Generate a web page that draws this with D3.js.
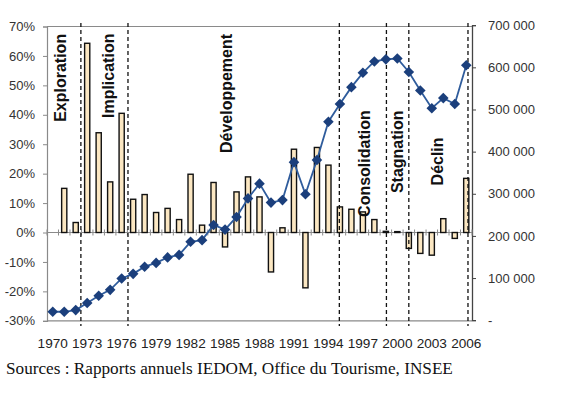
<!DOCTYPE html>
<html><head><meta charset="utf-8">
<script src="https://cdn.jsdelivr.net/npm/d3@7"></script>
<style>body{margin:0;background:#fff}svg{display:block}</style>
</head><body>
<svg id="c" width="576" height="395"></svg>
<script>
const years = d3.range(1970, 2007);
const growth = [null,15,3.4,64.3,33.9,17.2,40.5,11.3,12.9,6.8,8.2,4.4,19.8,2.5,17,-4.9,13.8,18.9,12.1,-13.4,1.6,28.3,-18.8,28.9,22.9,8.7,7.9,7.0,4.4,0.4,0.3,-5.4,-7.1,-7.7,4.7,-2,18.4];
const tourists = [20000,20000,24000,41000,58000,72000,99000,110000,127000,136000,149000,155000,186000,190000,226000,215000,245000,289000,324000,279000,285000,375000,299000,380000,471000,513000,553000,587000,614000,619000,621000,589000,545000,503000,527000,513000,605000];
const leftTicks = [-30,-20,-10,0,10,20,30,40,50,60,70];
const rightTicks = [0,100000,200000,300000,400000,500000,600000,700000];
const xLabels = [1970,1973,1976,1979,1982,1985,1988,1991,1994,1997,2000,2003,2006];
const phaseLines = [1972.45, 1976.55, 1994.95, 1999.05, 2001.0, 2006.15];
const phaseNames = ["Exploration","Implication","Développement","Consolidation","Stagnation","Déclin"];
const phaseX = [1970.64, 1974.86, 1985.16, 1997.1, 2000.05, 2003.5];
const phaseStart = [37.6, 38.9, 27, 5.3, 13.4, 16];
const source = "Sources : Rapports annuels IEDOM, Office du Tourisme, INSEE";

const svg = d3.select("#c");
const L = 47, R = 472;
const x = d3.scaleBand().domain(years).range([L, R]).paddingInner(0.55).paddingOuter(0.275);
const cx = d => x(d) + x.bandwidth()/2;
const xl = d3.scaleLinear().domain([1970, 2006]).range([cx(1970), cx(2006)]);
const yL = d3.scaleLinear().domain([-30, 70]).range([320.8, 26.5]);
const yR = d3.scaleLinear().domain([0, 700000]).range([320.2, 25.2]);
const gray = "#8a8a8a";

// frame
svg.append("line").attr("x1", L).attr("x2", R).attr("y1", yL(70)).attr("y2", yL(70)).attr("stroke", gray).attr("stroke-width", 1.2);
svg.append("line").attr("x1", L).attr("x2", R).attr("y1", yL(-30)).attr("y2", yL(-30)).attr("stroke", gray).attr("stroke-width", 1.2);

// left axis
const gL = svg.append("g").attr("transform", `translate(${L},0)`)
  .call(d3.axisLeft(yL).tickValues(leftTicks).tickSize(4).tickPadding(8).tickFormat(d => d + "%"));
gL.select(".domain").attr("stroke", gray).attr("stroke-width", 1.2);
gL.selectAll(".tick line").attr("stroke", gray);
gL.selectAll("text").attr("font-family", "Arial, Liberation Sans, sans-serif").attr("font-size", 13).attr("fill", "#333");

// right axis
const gR = svg.append("g").attr("transform", `translate(${R},0)`)
  .call(d3.axisRight(yR).tickValues(rightTicks).tickSize(4).tickPadding(12)
    .tickFormat(d => d === 0 ? "-" : d3.format(",")(d).replace(/,/g, " ")));
gR.select(".domain").attr("stroke", "#444").attr("stroke-width", 1.3);
gR.selectAll(".tick line").attr("stroke", "#444");
gR.selectAll("text").attr("font-family", "Arial, Liberation Sans, sans-serif").attr("font-size", 13).attr("fill", "#333");

// x axis at 0%
const y0 = yL(0);
svg.append("line").attr("x1", L).attr("x2", R).attr("y1", y0).attr("y2", y0).attr("stroke", gray).attr("stroke-width", 1.2);
svg.append("g").selectAll("line").data(d3.range(years.length + 1)).join("line")
  .attr("x1", i => L + i * (R - L) / years.length).attr("x2", i => L + i * (R - L) / years.length)
  .attr("y1", y0 - 3).attr("y2", y0 + 3).attr("stroke", gray).attr("stroke-width", 1);

// x labels
svg.append("g").selectAll("text").data(xLabels).join("text")
  .attr("x", d => cx(d)).attr("y", 348).attr("text-anchor", "middle")
  .attr("font-family", "Arial, Liberation Sans, sans-serif").attr("font-size", 13.6).attr("fill", "#222")
  .text(d => d);

// bars
const barData = years.map((yr, i) => ({yr, v: growth[i]})).filter(d => d.v !== null);
svg.append("g").selectAll("rect").data(barData).join("rect")
  .attr("x", d => x(d.yr)).attr("width", x.bandwidth())
  .attr("y", d => yL(Math.max(0, d.v))).attr("height", d => Math.abs(yL(d.v) - yL(0)))
  .attr("fill", "#fbe7c2").attr("stroke", "#111").attr("stroke-width", 1.4);

// phase dashed lines
svg.append("g").selectAll("line").data(phaseLines).join("line")
  .attr("x1", d => xl(d)).attr("x2", d => xl(d)).attr("y1", 23).attr("y2", 326)
  .attr("stroke", "#111").attr("stroke-width", 1.3).attr("stroke-dasharray", "4,3");

// line + markers
const pts = years.map((yr, i) => ({yr, v: tourists[i]}));
svg.append("path").datum(pts)
  .attr("d", d3.line().x(d => cx(d.yr)).y(d => yR(d.v)))
  .attr("fill", "none").attr("stroke", "#2f5c9c").attr("stroke-width", 1.8);
svg.append("g").selectAll("path").data(pts).join("path")
  .attr("d", d3.symbol().type(d3.symbolSquare).size(56))
  .attr("transform", d => `translate(${cx(d.yr)},${yR(d.v)}) rotate(45)`)
  .attr("fill", "#1b3f7c");

// phase labels
svg.append("g").selectAll("text").data(phaseNames).join("text")
  .attr("transform", (d, i) => `translate(${xl(phaseX[i])},${yL(phaseStart[i])}) rotate(-90)`)
  .attr("dominant-baseline", "central")
  .attr("font-family", "Arial, Liberation Sans, sans-serif").attr("font-weight", "bold").attr("font-size", 16).attr("fill", "#111")
  .text(d => d);

// source
svg.append("text").attr("x", 6).attr("y", 374)
  .attr("font-family", "'Times New Roman', 'Liberation Serif', serif").attr("font-size", 17.2).attr("fill", "#111")
  .text(source);
</script>
</body></html>
